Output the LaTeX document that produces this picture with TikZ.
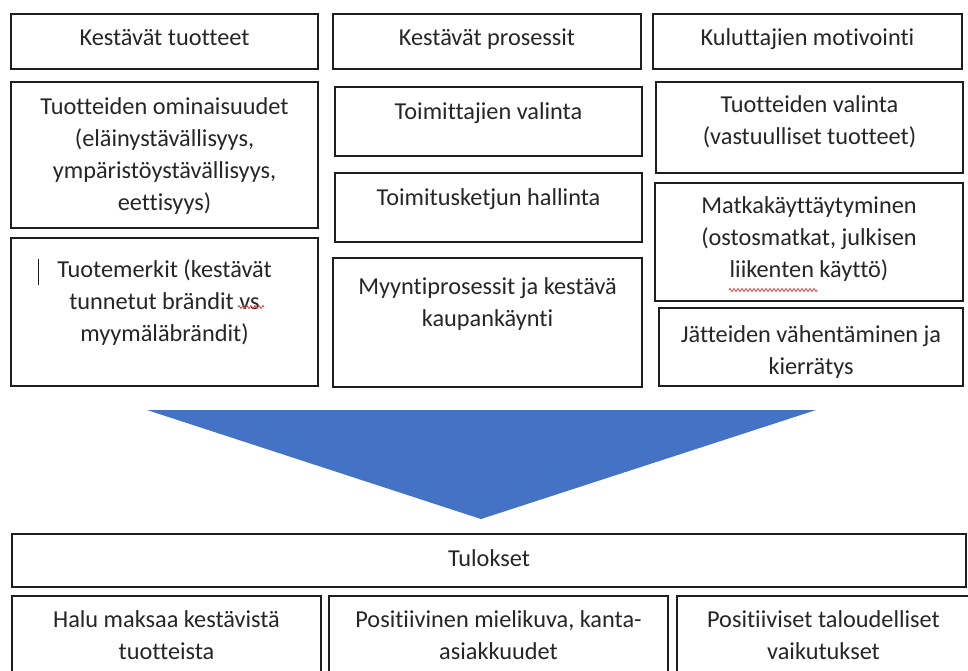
\documentclass[tikz,border=0pt]{standalone}
\usepackage{fontspec}
\setmainfont{Carlito}[Ligatures=NoCommon]
\usetikzlibrary{decorations.pathmorphing}
\definecolor{boxc}{HTML}{1E1E1E}
\definecolor{textc}{HTML}{262626}
\definecolor{tri}{HTML}{4472C4}
\definecolor{spell}{HTML}{E0403C}
\tikzset{
  box/.style={draw=boxc, line width=1.4pt, inner sep=0pt, outer sep=0pt, anchor=north west, fill=white},
  txt/.style={anchor=north, align=center, inner sep=0pt, text=textc, font=\fontsize{24.3}{32}\selectfont},
  squiggle/.style={draw=spell, line width=0.8pt, decorate, decoration={zigzag, amplitude=1.5pt, segment length=4pt}}
}
\begin{document}
\begin{tikzpicture}[x=1pt, y=-1pt]
\useasboundingbox (0,0) rectangle (968,670);
\clip (0,0) rectangle (968,670);
\fill[white] (0,0) rectangle (968,670);

% column 1
\node[box, minimum width=307pt, minimum height=55pt]  (a1) at (11,14) {};
\node[box, minimum width=307pt, minimum height=146pt] (a2) at (11,82) {};
\node[box, minimum width=307pt, minimum height=148pt] (a3) at (11,238) {};
% column 2
\node[box, minimum width=308pt, minimum height=55pt]  (b1) at (333,14) {};
\node[box, minimum width=307pt, minimum height=69pt]  (b2) at (335,87) {};
\node[box, minimum width=307pt, minimum height=69pt]  (b3) at (335,173) {};
\node[box, minimum width=309pt, minimum height=129pt] (b4) at (333,258) {};
% column 3
\node[box, minimum width=309pt, minimum height=55pt]  (c1) at (653,14) {};
\node[box, minimum width=307pt, minimum height=91pt]  (c2) at (656,82) {};
\node[box, minimum width=308pt, minimum height=118pt] (c3) at (655,183) {};
\node[box, minimum width=304pt, minimum height=78pt]  (c4) at (659,308) {};
% results
\node[box, minimum width=954pt, minimum height=53pt]  (t)  at (12,534) {};
\node[box, minimum width=309pt, minimum height=80pt]  (r1) at (12,596) {};
\node[box, minimum width=339pt, minimum height=80pt]  (r2) at (329,596) {};
\node[box, minimum width=293pt, minimum height=80pt]  (r3) at (677,596) {};

% texts
\node[txt] (a1t) at ([yshift=-9pt]a1.north) {\strut Kestävät tuotteet};
\node[txt] (a2t) at ([yshift=-10pt]a2.north) {\strut Tuotteiden ominaisuudet\\(eläinystävällisyys,\\ympäristöystävällisyys,\\eettisyys)};
\node[txt] (a3t) at ([yshift=-17pt]a3.north) {\strut Tuotemerkit (kestävät\\tunnetut brändit vs\\myymäläbrändit)};
\node[txt] (b1t) at ([yshift=-9pt]b1.north) {\strut Kestävät prosessit};
\node[txt] (b2t) at ([yshift=-10pt]b2.north) {\strut Toimittajien valinta};
\node[txt] (b3t) at ([yshift=-10pt]b3.north) {\strut Toimitusketjun hallinta};
\node[txt] (b4t) at ([yshift=-14pt]b4.north) {\strut Myyntiprosessit ja kestävä\\kaupankäynti};
\node[txt] (c1t) at ([yshift=-9pt]c1.north) {\strut Kuluttajien motivointi};
\node[txt] (c2t) at ([yshift=-8pt]c2.north) {\strut Tuotteiden valinta\\(vastuulliset tuotteet)};
\node[txt] (c3t) at ([yshift=-8pt]c3.north) {\strut Matkakäyttäytyminen\\(ostosmatkat, julkisen\\liikenten käyttö)};
\node[txt] (c4t) at ([yshift=-12pt]c4.north) {\strut Jätteiden vähentäminen ja\\kierrätys};
\node[txt] (tt)  at ([yshift=-10pt]t.north) {\strut Tulokset};
\node[txt] (r1t) at ([yshift=-9pt]r1.north) {\strut Halu maksaa kestävistä\\tuotteista};
\node[txt] (r2t) at ([yshift=-9pt]r2.north) {\strut Positiivinen mielikuva, kanta-\\asiakkuudet};
\node[txt] (r3t) at ([yshift=-9pt]r3.north) {\strut Positiiviset taloudelliset\\vaikutukset};

% text cursor and spell-check marks
\draw[boxc, line width=1pt] (38,259) -- (38,285);
\draw[squiggle] (238,307) -- (264,307);
\draw[squiggle] (729,290) -- (817,290);

% big downward triangle
\fill[tri] (147,410) -- (816,410) -- (481,519) -- cycle;
\end{tikzpicture}
\end{document}
